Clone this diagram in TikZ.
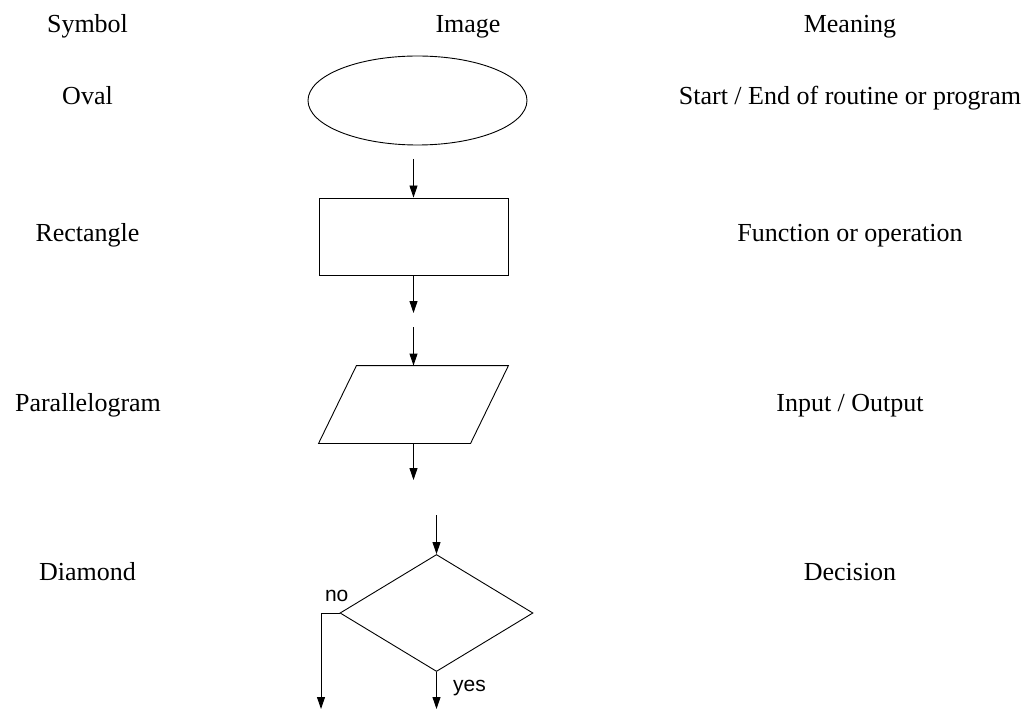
\documentclass[tikz,border=0pt]{standalone}
\usepackage{fontspec}
\setmainfont{Liberation Serif}
\newfontfamily\etiqfont{Liberation Sans}
\usetikzlibrary{
    positioning,
    arrows.meta,
    shapes.geometric
}
\tikzset{
    >={Triangle[length=12pt,width=8pt]},
    texto/.style={
        anchor=base,
        inner sep=0pt,
        font=\fontsize{26}{30}\selectfont
    },
    etiqueta/.style={
        anchor=base,
        inner sep=0pt,
        font=\etiqfont\fontsize{21}{25}\selectfont
    },
    figura/.style={
        draw,
        inner sep=0pt
    }
}

\begin{document}
\begin{tikzpicture}[
    x=1pt,
    y=-1pt,
    line width=0.9pt
]
    \useasboundingbox (0,0) rectangle (1027,711);

    % Encabezados
    \node[texto] (hsym)  at (87.5,33)  {Symbol};
    \node[texto] (himg)  at (468,33)   {Image};
    \node[texto] (hmean) at (850,33)   {Meaning};

    % Columna izquierda
    \node[texto] (noval) at (87.5,105) {Oval};
    \node[texto] (nrect) at (87.5,242) {Rectangle};
    \node[texto] (npara) at (88,411)   {Parallelogram};
    \node[texto] (nromb) at (87.5,580) {Diamond};

    % Columna derecha
    \node[texto] (moval) at (850,105) {Start / End of routine or program};
    \node[texto] (mrect) at (850,242) {Function or operation};
    \node[texto] (mpara) at (850,411) {Input / Output};
    \node[texto] (mromb) at (850,580) {Decision};

    % Figuras
    \node[figura, ellipse, minimum width=219, minimum height=89]
        (oval) at (417.5,100.5) {};
    \node[figura, rectangle, minimum width=189, minimum height=77]
        (rect) at (413.5,236.5) {};
    \node[inner sep=0pt, minimum width=189, minimum height=77]
        (para) at (413.5,404.5) {};
    \draw (para.south west) -- ++(152,0) -- (para.north east)
        -- ++(-152,0) -- cycle;
    \node[figura, diamond, minimum width=193, minimum height=117]
        (rombo) at (436.5,613) {};

    % Extremos libres
    \coordinate (a1)  at (413.5,159);
    \coordinate (a2)  at (413.5,313);
    \coordinate (a3)  at (413.5,327);
    \coordinate (a4)  at (413.5,480);
    \coordinate (a5)  at (436.5,515);
    \coordinate (esq) at (321,613);
    \coordinate (fno) at (321,709);
    \coordinate (fsi) at (436.5,709);

    % Flechas
    \path[->]
        (a1) edge (rect.north)
        (rect.south) edge (a2)
        (a3) edge (para.north)
        (para.south) edge (a4)
        (a5) edge (rombo.north)
        (rombo.south) edge (fsi);
    \draw[->] (rombo.west) -- (esq) -- (fno);

    % Etiquetas
    \node[etiqueta] (lno) at (336.7,601) {no};
    \node[etiqueta] (lsi) at (469.5,691) {yes};

\end{tikzpicture}
\end{document}
